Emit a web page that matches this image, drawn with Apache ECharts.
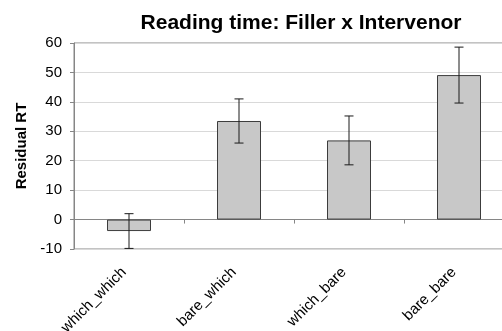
<!DOCTYPE html>
<html>
<head>
<meta charset="utf-8">
<script src="https://cdn.jsdelivr.net/npm/echarts@6/dist/echarts.min.js"></script>
<style>
html,body{margin:0;padding:0;background:#fff;}
#chart{width:502px;height:331px;}
</style>
</head>
<body>
<div id="chart"></div>
<script>
const categories = ['which_which', 'bare_which', 'which_bare', 'bare_bare'];
const means = [-3.9, 33.5, 26.9, 49.1];
const errors = [5.9, 7.5, 8.3, 9.5];
const yTicks = { min: -10, max: 60, interval: 10 };
const titleText = 'Reading time: Filler x Intervenor';
const yName = 'Residual RT';

const errData = categories.map((c, i) => [i, means[i] - errors[i], means[i] + errors[i]]);
const font = 'Liberation Sans, Arial, sans-serif';

const chart = echarts.init(document.getElementById('chart'));
chart.setOption({
  animation: false,
  backgroundColor: '#fff',
  title: {
    text: titleText,
    left: 296, top: 8, textAlign: 'center',
    textStyle: { fontSize: 21, fontWeight: 'bold', color: '#000', fontFamily: font }
  },
  grid: {
    left: 74, top: 43, width: 440, height: 206,
    containLabel: false,
    outerBoundsMode: 'none',
    show: true, borderColor: '#868686', borderWidth: 1, backgroundColor: 'transparent'
  },
  xAxis: {
    type: 'category',
    data: categories,
    axisLine: { onZero: true, lineStyle: { color: '#868686', width: 1 } },
    axisTick: { show: true, length: 4, lineStyle: { color: '#868686' } },
    axisLabel: { rotate: 45, margin: 16, padding: [0, 7, 0, 0], fontSize: 15, color: '#000', fontFamily: font }
  },
  yAxis: {
    type: 'value',
    min: yTicks.min, max: yTicks.max, interval: yTicks.interval,
    name: yName, nameLocation: 'middle', nameGap: 45, nameRotate: 90,
    nameTextStyle: { fontSize: 15, fontWeight: 'bold', color: '#000', fontFamily: font },
    axisLine: { show: true, lineStyle: { color: '#868686', width: 1 } },
    axisTick: { show: true, length: 4, lineStyle: { color: '#868686' } },
    axisLabel: { fontSize: 15, color: '#000', margin: 12, fontFamily: font },
    splitLine: { show: true, lineStyle: { color: '#d9d9d9', width: 1 } }
  },
  series: [
    {
      type: 'bar',
      data: means,
      barWidth: 44,
      itemStyle: { color: '#c8c8c8', borderColor: '#3c3c3c', borderWidth: 1 }
    },
    {
      type: 'custom',
      data: errData,
      z: 10,
      renderItem: function (params, api) {
        const x = api.value(0);
        const lo = api.coord([x, api.value(1)]);
        const hi = api.coord([x, api.value(2)]);
        const h = 4.5;
        const st = { stroke: '#1a1a1a', lineWidth: 1 };
        return {
          type: 'group',
          children: [
            { type: 'line', shape: { x1: hi[0], y1: hi[1], x2: lo[0], y2: lo[1] }, style: st },
            { type: 'line', shape: { x1: hi[0] - h, y1: hi[1], x2: hi[0] + h, y2: hi[1] }, style: st },
            { type: 'line', shape: { x1: lo[0] - h, y1: lo[1], x2: lo[0] + h, y2: lo[1] }, style: st }
          ]
        };
      }
    }
  ]
});
</script>
</body>
</html>
